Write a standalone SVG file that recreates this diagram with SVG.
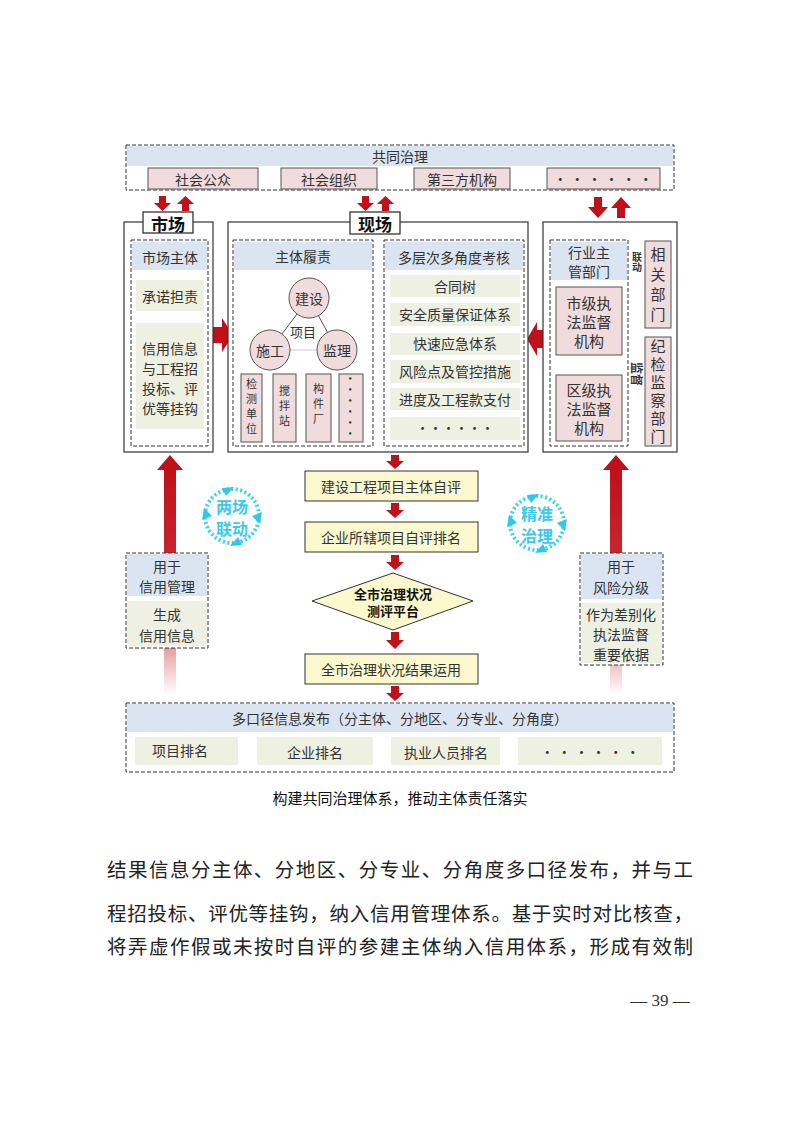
<svg xmlns="http://www.w3.org/2000/svg" width="794" height="1123" viewBox="0 0 794 1123">
<style>
text{font-family:"Noto Sans CJK SC","Noto Sans CJK JP",sans-serif;fill:#333;text-anchor:middle;dominant-baseline:central}
.v{writing-mode:vertical-rl}
.dash{fill:none;stroke:#333;stroke-width:1;stroke-dasharray:4,2}
.blue{fill:#dbe5f1}
.pink{fill:#f0dcdc;stroke:#555;stroke-width:1}
.green{fill:#eef0e2}
.frame{fill:#fff;stroke:#333;stroke-width:1.2}
.lbl{fill:#fff;stroke:#222;stroke-width:1.2}
.yel{fill:#fcf9cf;stroke:#333;stroke-width:1}
.red{fill:#c0101a}
.t14{font-size:14px}
.t13{font-size:13px}
.t11{font-size:11px}
.cy{fill:none;stroke:#3cd0ef;stroke-width:4;stroke-dasharray:2,2.5}
.cyt{fill:#3cc9ea;font-size:16px;font-weight:bold}
.cya{fill:#2ec8ec}
</style>
<defs>
<linearGradient id="gl" x1="0" y1="0" x2="0" y2="1">
<stop offset="0" stop-color="#c0101a"/>
<stop offset="0.55" stop-color="#c8303a"/>
<stop offset="1" stop-color="#c8303a" stop-opacity="0"/>
</linearGradient>
</defs>
<rect width="794" height="1123" fill="#fff"/>

<g id="connectors">
<polygon points="164,470 176,470 176,695 164,695" fill="url(#gl)"/>
<polygon points="157,470 170,455 183,470" class="red"/>
<polygon points="610,470 622,470 622,695 610,695" fill="url(#gl)"/>
<polygon points="603,470 616,455 629,470" class="red"/>
<polygon points="159,196 166,196 166,203 171,203 162.5,211 154,203 159,203" class="red"/>
<polygon points="182,211 189,211 189,204 194,204 185.5,196 177,204 182,204" class="red"/>
<polygon points="362,196 369,196 369,203 374,203 365.5,211 357,203 362,203" class="red"/>
<polygon points="382,211 389,211 389,204 394,204 385.5,196 377,204 382,204" class="red"/>
<polygon points="594,197 602,197 602,207 608,207 598,218 588,207 594,207" class="red"/>
<polygon points="617,218 625,218 625,208 631,208 621,197 611,208 617,208" class="red"/>
<polygon points="213,327 222,327 222,318 233,335 222,352 222,343 213,343" class="red"/>
<polygon points="374,336 381,336 381,329 389,341 381,353 381,346 374,346" fill="#1fae4e"/>
<polygon points="546,330 537,330 537,322 527,339 537,356 537,348 546,348" class="red"/>
<polygon points="391,455 399,455 399,461 404,461 395,469 386,461 391,461" class="red"/>
<polygon points="391,503 399,503 399,510 404,510 395,518 386,510 391,510" class="red"/>
<polygon points="391,555 399,555 399,562 404,562 395,570 386,562 391,562" class="red"/>
<polygon points="391,632 399,632 399,640 404,640 395,649 386,640 391,640" class="red"/>
<polygon points="391,686 399,686 399,693 404,693 395,701 386,693 391,693" class="red"/>
<polygon points="585,358 593,358 593,363 599,363 589,373 579,363 585,363" class="red"/>
<polygon points="630,273 636,273 636,268 645,277 636,286 636,281 630,281" class="red"/>
<polygon points="645,293 639,293 639,288 630,297 639,306 639,301 645,301" class="red"/>
<polygon points="645,388 639,388 639,383 630,392 639,401 639,396 645,396" class="red"/>
</g>

<g id="gongtong">
<rect x="127" y="146" width="546" height="20" class="blue"/>
<rect x="126" y="145" width="548" height="45" class="dash"/>
<text x="400" y="156" class="t14">共同治理</text>
<rect x="148" y="168" width="110" height="21" class="pink"/>
<text x="203" y="179" class="t14">社会公众</text>
<rect x="281" y="168" width="96" height="21" class="pink"/>
<text x="329" y="179" class="t14">社会组织</text>
<rect x="414" y="168" width="96" height="21" class="pink"/>
<text x="462" y="179" class="t14">第三方机构</text>
<rect x="547" y="168" width="113" height="21" class="pink"/>
<text x="603" y="178" class="t14">· · · · · ·</text>
</g>

<g id="shichang">
<rect x="124" y="222" width="89" height="230" class="frame"/>
<rect x="143" y="212" width="50" height="21" class="lbl"/>
<text x="168" y="223" style="font-size:17px;font-weight:bold;fill:#111">市场</text>
<rect x="132" y="242" width="75" height="28" class="blue"/>
<text x="170" y="257" class="t14">市场主体</text>
<rect x="136" y="280" width="68" height="31" class="green"/>
<text x="170" y="296" class="t14">承诺担责</text>
<rect x="136" y="323" width="68" height="106" class="green"/>
<text x="170" y="348" class="t14"><tspan x="170">信用信息</tspan><tspan x="170" dy="20">与工程招</tspan><tspan x="170" dy="20">投标、评</tspan><tspan x="170" dy="20">优等挂钩</tspan></text>
<rect x="131" y="240" width="77" height="206" class="dash"/>
</g>

<g id="xianchang">
<rect x="228" y="222" width="300" height="230" class="frame"/>
<rect x="350" y="212" width="50" height="22" class="lbl"/>
<text x="375" y="223" style="font-size:17px;font-weight:bold;fill:#111">现场</text>
</g>

<g id="zhuti">
<rect x="234" y="242" width="138" height="28" class="blue"/>
<text x="303" y="256" class="t14">主体履责</text>
<line x1="309" y1="298" x2="270" y2="350" stroke="#555"/>
<line x1="309" y1="298" x2="337" y2="350" stroke="#555"/>
<line x1="270" y1="350" x2="337" y2="350" stroke="#ccc"/>
<circle cx="309" cy="298" r="20" class="pink"/>
<circle cx="270" cy="350" r="20" class="pink"/>
<circle cx="337" cy="350" r="20" class="pink"/>
<text x="309" y="298" class="t14">建设</text>
<text x="270" y="350" class="t14">施工</text>
<text x="337" y="350" class="t14">监理</text>
<text x="303" y="331" class="t13">项目</text>
<rect x="241" y="374" width="21" height="68" class="pink"/>
<text x="251.5" y="408" class="t11 v" letter-spacing="4">检测单位</text>
<rect x="273" y="374" width="23" height="68" class="pink"/>
<text x="284.5" y="408" class="t11 v" letter-spacing="4">搅拌站</text>
<rect x="306" y="374" width="25" height="68" class="pink"/>
<text x="318.5" y="406" class="t11 v" letter-spacing="4">构件厂</text>
<rect x="339" y="374" width="24" height="68" class="pink"/>
<text x="351" y="406" class="t11" transform="rotate(90 351 406)">······</text>
<rect x="233" y="240" width="140" height="206" class="dash"/>
</g>

<g id="kaohe">
<rect x="385" y="242" width="138" height="28" class="blue"/>
<text x="454" y="257" class="t14">多层次多角度考核</text>
<rect x="390" y="275" width="130" height="22" class="green"/>
<text x="455" y="286" class="t14">合同树</text>
<rect x="390" y="303" width="130" height="23" class="green"/>
<text x="455" y="314" class="t14">安全质量保证体系</text>
<rect x="390" y="333" width="130" height="22" class="green"/>
<text x="455" y="343" class="t14">快速应急体系</text>
<rect x="390" y="360" width="130" height="23" class="green"/>
<text x="455" y="371" class="t14">风险点及管控措施</text>
<rect x="390" y="388" width="130" height="22" class="green"/>
<text x="455" y="399" class="t14">进度及工程款支付</text>
<rect x="390" y="417" width="130" height="23" class="green"/>
<text x="455" y="427" class="t13">······</text>
<rect x="384" y="240" width="140" height="206" class="dash"/>
</g>

<g id="hangye">
<rect x="543" y="222" width="134" height="230" class="frame"/>
<rect x="551" y="242" width="76" height="38" class="blue"/>
<text x="589" y="251.5" style="font-size:14px"><tspan x="589">行业主</tspan><tspan x="589" dy="19.5">管部门</tspan></text>
<rect x="556" y="287" width="66" height="68" class="pink"/>
<text x="589" y="302" style="font-size:15px"><tspan x="589">市级执</tspan><tspan x="589" dy="19">法监督</tspan><tspan x="589" dy="19">机构</tspan></text>
<rect x="556" y="375" width="66" height="66" class="pink"/>
<text x="589" y="389" style="font-size:15px"><tspan x="589">区级执</tspan><tspan x="589" dy="19">法监督</tspan><tspan x="589" dy="19">机构</tspan></text>
<rect x="550" y="240" width="78" height="206" class="dash"/>
<text x="637" y="262" class="v" style="font-size:10px;font-weight:bold">联动</text>
<text x="637" y="374" style="font-size:12px;font-weight:bold" transform="rotate(90 637 374)">监督</text>
</g>
<g id="xiangguan">
<rect x="645" y="241" width="26" height="87" class="pink"/>
<text x="658" y="287" class="v" style="font-size:15px" letter-spacing="5">相关部门</text>
</g>
<g id="jijian">
<rect x="645" y="337" width="26" height="109" class="pink"/>
<text x="658" y="393" class="v" style="font-size:15px" letter-spacing="3">纪检监察部门</text>
</g>

<g id="ziping">
<rect x="305" y="471" width="173" height="30" class="yel"/>
<text x="391" y="486" class="t14">建设工程项目主体自评</text>
</g>
<g id="paiming">
<rect x="305" y="522" width="173" height="30" class="yel"/>
<text x="391" y="537" class="t14">企业所辖项目自评排名</text>
</g>
<g id="pingtai">
<polygon points="393,573 473,601 393,630 312,601" class="yel"/>
<text x="393" y="593" style="font-size:13px;font-weight:bold;fill:#111"><tspan x="393">全市治理状况</tspan><tspan x="393" dy="17">测评平台</tspan></text>
</g>
<g id="yunyong">
<rect x="305" y="654" width="173" height="30" class="yel"/>
<text x="391" y="669" class="t14">全市治理状况结果运用</text>
</g>

<g id="xinyong">
<rect x="126" y="553" width="82" height="95" fill="#fff"/>
<rect x="127" y="554" width="80" height="42" class="blue"/>
<text x="167" y="566" class="t14"><tspan x="167">用于</tspan><tspan x="167" dy="20">信用管理</tspan></text>
<rect x="127" y="601" width="80" height="45" class="green"/>
<text x="167" y="614" class="t14"><tspan x="167">生成</tspan><tspan x="167" dy="21">信用信息</tspan></text>
<rect x="126" y="553" width="82" height="95" class="dash"/>
</g>
<g id="fengxian">
<rect x="580" y="553" width="83" height="112" fill="#fff"/>
<rect x="581" y="554" width="81" height="45" class="blue"/>
<text x="621" y="566" class="t14"><tspan x="621">用于</tspan><tspan x="621" dy="21">风险分级</tspan></text>
<rect x="581" y="603" width="81" height="60" class="green"/>
<text x="621" y="614" class="t14"><tspan x="621">作为差别化</tspan><tspan x="621" dy="20">执法监督</tspan><tspan x="621" dy="20">重要依据</tspan></text>
<rect x="580" y="553" width="83" height="112" class="dash"/>
</g>

<g id="liangchang">
<circle cx="232" cy="516" r="27" class="cy"/>
<polygon points="222,488 234,487 226,496" class="cya"/>
<polygon points="262,512 260,524 252,516" class="cya"/>
<polygon points="242,545 230,546 238,537" class="cya"/>
<polygon points="202,520 204,508 212,516" class="cya"/>
<text x="232" y="506" class="cyt"><tspan x="232">两场</tspan><tspan x="232" dy="22">联动</tspan></text>
</g>
<g id="jingzhun">
<circle cx="537" cy="523" r="27" class="cy"/>
<polygon points="527,495 539,494 531,503" class="cya"/>
<polygon points="567,519 565,531 557,523" class="cya"/>
<polygon points="547,552 535,553 543,544" class="cya"/>
<polygon points="507,527 509,515 517,523" class="cya"/>
<text x="537" y="513" class="cyt"><tspan x="537">精准</tspan><tspan x="537" dy="22">治理</tspan></text>
</g>

<g id="fabu">
<rect x="127" y="704" width="546" height="28" class="blue"/>
<text x="400" y="718" class="t14">多口径信息发布（分主体、分地区、分专业、分角度）</text>
<rect x="135" y="737" width="103" height="28" class="green"/>
<text x="180" y="750" class="t14">项目排名</text>
<rect x="257" y="737" width="116" height="28" class="green"/>
<text x="315" y="752" class="t14">企业排名</text>
<rect x="391" y="737" width="109" height="28" class="green"/>
<text x="446" y="752" class="t14">执业人员排名</text>
<rect x="518" y="737" width="144" height="28" class="green"/>
<text x="590" y="751" class="t14">· · · · · ·</text>
<rect x="126" y="703" width="548" height="69" class="dash"/>
</g>

<text x="400" y="797" style="font-size:15px;fill:#111">构建共同治理体系，推动主体责任落实</text>

<g id="para" style="font-size:19.5px">
<text x="400" y="868" textLength="586" lengthAdjust="spacing" style="fill:#222">结果信息分主体、分地区、分专业、分角度多口径发布，并与工</text>
<text x="400" y="912" textLength="586" lengthAdjust="spacing" style="fill:#222">程招投标、评优等挂钩，纳入信用管理体系。基于实时对比核查，</text>
<text x="400" y="945" textLength="586" lengthAdjust="spacing" style="fill:#222">将弄虚作假或未按时自评的参建主体纳入信用体系，形成有效制</text>
</g>
<text x="660" y="1000" style="font-size:17px;fill:#333;font-family:'Liberation Serif',serif">— 39 —</text>
</svg>
